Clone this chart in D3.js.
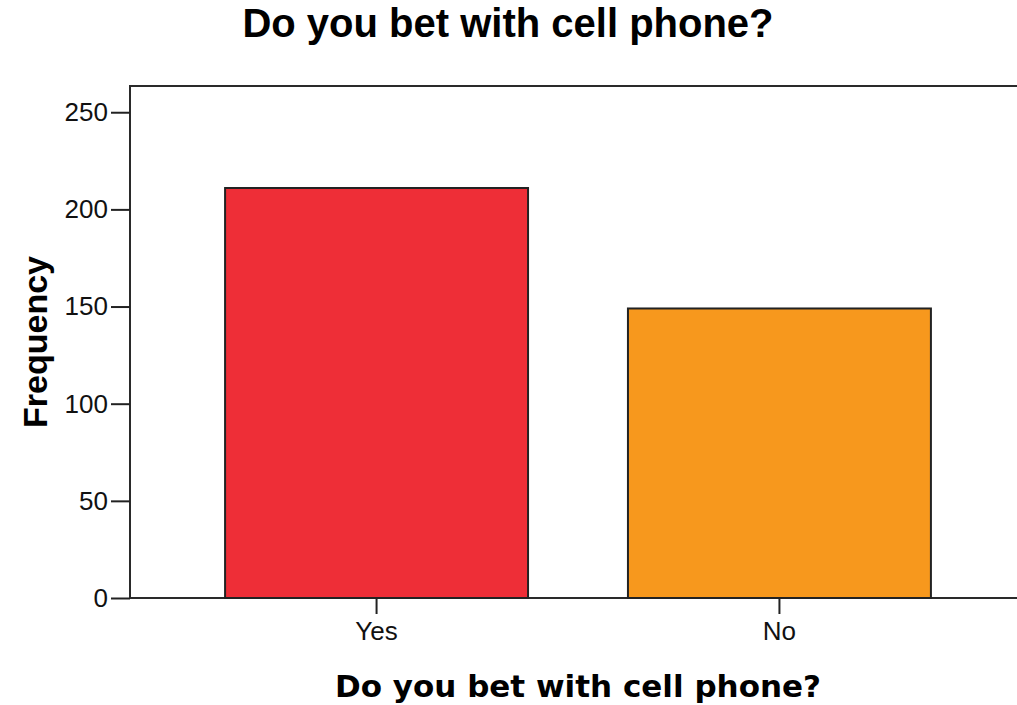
<!DOCTYPE html>
<meta charset="utf-8">
<head>
<title>Do you bet with cell phone?</title>
<style>
  body { margin: 0; background: white; }
  svg text { font-family: "Liberation Sans", Arial, sans-serif; }
</style>
</head>
<body>
<div id="chart"></div>
<script src="https://d3js.org/d3.v7.min.js"></script>
<script>

var categories = ["Yes", "No"];
var frequencies = [211, 149];
var barColors = ["#ee2e37", "#f7981d"];
var yTicks = [0, 50, 100, 150, 200, 250];

var W = 1017, H = 705;
var plotLeft = 130, plotTop = 86, plotRight = 1026, plotBottom = 598;

var svg = d3.select("#chart")
  .append("svg")
    .attr("width", W)
    .attr("height", H);

var x = d3.scaleBand()
  .domain(categories)
  .range([plotLeft, plotRight])
  .paddingInner(0.248)
  .paddingOuter(0.236);

var y = d3.scaleLinear()
  .domain([0, 263.5])
  .range([plotBottom, plotTop]);

// frame around the plot area
svg.append("rect")
  .attr("x", plotLeft)
  .attr("y", plotTop)
  .attr("width", plotRight - plotLeft)
  .attr("height", plotBottom - plotTop)
  .attr("fill", "white")
  .attr("stroke", "#2a2a2a")
  .attr("stroke-width", 2);

svg.selectAll(".bar")
  .data(categories)
  .enter().append("rect")
    .attr("class", "bar")
    .attr("x", function(d) { return x(d); })
    .attr("y", function(d, i) { return y(frequencies[i]); })
    .attr("width", x.bandwidth())
    .attr("height", function(d, i) { return plotBottom - y(frequencies[i]); })
    .attr("fill", function(d, i) { return barColors[i]; })
    .attr("stroke", "#222")
    .attr("stroke-width", 2);

var yAxis = svg.append("g")
  .attr("transform", "translate(" + plotLeft + ",0)")
  .call(d3.axisLeft(y).tickValues(yTicks).tickSize(19).tickSizeOuter(0).tickPadding(3));

var xAxis = svg.append("g")
  .attr("transform", "translate(0," + plotBottom + ")")
  .call(d3.axisBottom(x).tickSize(16).tickSizeOuter(0).tickPadding(8));

[yAxis, xAxis].forEach(function(g) {
  g.select(".domain").remove();
  g.selectAll(".tick line").attr("stroke", "#222").attr("stroke-width", 2);
  g.selectAll(".tick text")
    .attr("fill", "#111")
    .style("font-size", "26px")
    .style("font-family", "'Liberation Sans', Arial, sans-serif");
});

svg.append("text")
  .attr("x", 508)
  .attr("y", 37)
  .attr("text-anchor", "middle")
  .style("font-size", "40px")
  .style("font-weight", "bold")
  .text("Do you bet with cell phone?");

svg.append("text")
  .attr("x", 578)
  .attr("y", 697)
  .attr("text-anchor", "middle")
  .style("font-family", "'DejaVu Sans', Verdana, sans-serif")
  .style("font-size", "31px")
  .style("font-weight", "bold")
  .text("Do you bet with cell phone?");

svg.append("text")
  .attr("transform", "translate(47," + ((plotTop + plotBottom) / 2) + ") rotate(-90)")
  .attr("text-anchor", "middle")
  .style("font-size", "34px")
  .style("font-weight", "bold")
  .text("Frequency");

</script>
</body>
